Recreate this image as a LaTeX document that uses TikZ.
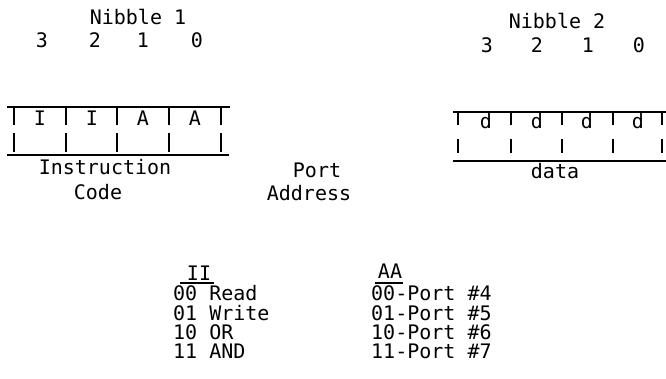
\documentclass[tikz,border=0pt]{standalone}
\usepackage{fontspec}
\newfontfamily\monofnt{DejaVu Sans Mono}
\begin{document}
\begin{tikzpicture}[x=1pt,y=-1pt,
  txt/.style={font=\monofnt\fontsize{20}{20}\selectfont, inner sep=0pt, anchor=base},
  txtl/.style={txt, anchor=base west},
  rule/.style={line width=2pt},
  tick/.style={line width=1.9pt},
  bar/.style={line width=1.5pt}]
\useasboundingbox (0,0) rectangle (666,378);

% Nibble 1 header
\node[txt] (n1) at (138,24) {Nibble 1};
\node[txt] (l3) at (42,47) {3};
\node[txt] (l2) at (95,47) {2};
\node[txt] (l1) at (143,47) {1};
\node[txt] (l0) at (197,47) {0};

% Nibble 2 header
\node[txt] (n2) at (557,28) {Nibble 2};
\node[txt] (r3) at (487,52) {3};
\node[txt] (r2) at (537,52) {2};
\node[txt] (r1) at (588,52) {1};
\node[txt] (r0) at (639,52) {0};

% left register
\coordinate (LTa) at (7,107);
\coordinate (LTb) at (230,107);
\coordinate (LBa) at (7,155);
\coordinate (LBb) at (229,155);
\draw[rule] (LTa) -- (LTb);
\draw[rule] (LBa) -- (LBb);
\foreach \x [count=\i] in {14,66,117,169,221} {
  \coordinate (lu\i a) at (\x,107);
  \coordinate (lu\i b) at (\x,125);
  \coordinate (ll\i a) at (\x,133);
  \coordinate (ll\i b) at (\x,152);
  \draw[tick] (lu\i a) -- (lu\i b);
  \draw[tick] (ll\i a) -- (ll\i b);
}
\node[txt] (b3) at (40,125) {I};
\node[txt] (b2) at (92,125) {I};
\node[txt] (b1) at (143,125) {A};
\node[txt] (b0) at (195,125) {A};
\node[txt] (ic1) at (105,174) {Instruction};
\node[txt] (ic2) at (98,199) {Code};

% port address
\node[txt] (pa1) at (317,177) {Port};
\node[txt] (pa2) at (309,200) {Address};

% right register
\coordinate (RTa) at (453,112);
\coordinate (RTb) at (666,112);
\coordinate (RBa) at (453,161);
\coordinate (RBb) at (666,161);
\draw[rule] (RTa) -- (RTb);
\draw[rule] (RBa) -- (RBb);
\foreach \x [count=\i] in {458,511,562,613,662} {
  \coordinate (ru\i a) at (\x,112);
  \coordinate (ru\i b) at (\x,125);
  \coordinate (rl\i a) at (\x,139);
  \coordinate (rl\i b) at (\x,153);
  \draw[tick] (ru\i a) -- (ru\i b);
  \draw[tick] (rl\i a) -- (rl\i b);
}
\node[txt] (d3) at (486,128) {d};
\node[txt] (d2) at (537,128) {d};
\node[txt] (d1) at (587,128) {d};
\node[txt] (d0) at (638,128) {d};
\node[txt] (dat) at (555,178) {data};

% II table
\node[txt] (II) at (199,280) {II};
\coordinate (IIa) at (180,283);
\coordinate (IIb) at (214,283);
\draw[bar] (IIa) -- (IIb);
\node[txtl] (i0) at (173,300) {00 Read};
\node[txtl] (i1) at (173,320) {01 Write};
\node[txtl] (i2) at (173,339) {10 OR};
\node[txtl] (i3) at (173,358) {11 AND};

% AA table
\node[txt] (AA) at (390,278) {AA};
\coordinate (AAa) at (375,283);
\coordinate (AAb) at (403,283);
\draw[bar] (AAa) -- (AAb);
\node[txtl] (a0) at (371,300) {00-Port \#4};
\node[txtl] (a1) at (371,320) {01-Port \#5};
\node[txtl] (a2) at (371,339) {10-Port \#6};
\node[txtl] (a3) at (371,358) {11-Port \#7};
\end{tikzpicture}
\end{document}
